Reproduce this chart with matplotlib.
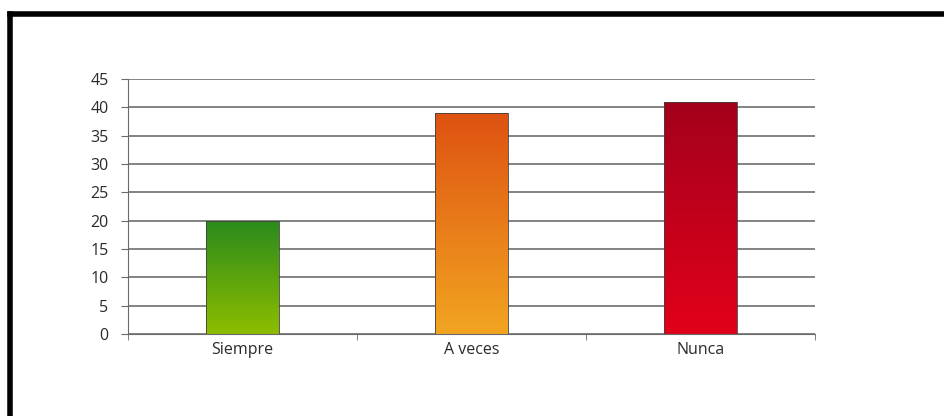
import matplotlib
matplotlib.use("Agg")
import matplotlib.pyplot as plt
import numpy as np
from matplotlib.colors import LinearSegmentedColormap
from matplotlib.lines import Line2D

# datos
categorias = ["Siempre", "A veces", "Nunca"]
valores = [20, 39, 41]
colores_arriba = ["#2a8a1c", "#de5212", "#a3001c"]
colores_abajo = ["#8dbd00", "#f2a521", "#e2001a"]

plt.rcParams['font.family'] = ['Open Sans', 'DejaVu Sans']

fig = plt.figure(figsize=(9.45, 4.16), dpi=100)
ax = fig.add_axes([128 / 945, 1 - 334 / 416, (815 - 128) / 945, (334 - 79) / 416])

x = np.arange(len(categorias))
barras = ax.bar(x, valores, width=0.315, color="none", edgecolor="#404040",
                linewidth=0.6, zorder=3)

# degradado dentro de cada barra (oscuro arriba, claro abajo)
grad = np.linspace(0, 1, 256).reshape(-1, 1)
for b, c1, c2 in zip(barras, colores_arriba, colores_abajo):
    cmap = LinearSegmentedColormap.from_list("g", [c1, c2])
    x0, y0 = b.get_x(), b.get_y()
    im = ax.imshow(grad, cmap=cmap, aspect="auto", zorder=2, origin="upper",
                   extent=(x0, x0 + b.get_width(), y0, y0 + b.get_height()))
    im.set_clip_path(b)

ax.set_xlim(-0.5, len(categorias) - 0.5)
ax.set_ylim(0, 45)
ax.set_yticks(range(0, 50, 5))
ax.set_xticks(x)
ax.set_xticklabels(categorias)
ax.set_xticks(np.arange(-0.5, len(categorias)), minor=True)

ax.grid(axis="y", color="#7a7a7a", linewidth=1.3, zorder=1)
for s in ["top", "right"]:
    ax.spines[s].set_visible(False)
ax.spines["left"].set_color("#6a6a6a")
ax.spines["bottom"].set_color("#6a6a6a")

ax.tick_params(axis="y", length=5, color="#6a6a6a", labelsize=11.5, labelcolor="#2a2a2a", pad=9)
ax.tick_params(axis="x", which="major", length=0, labelsize=11.5, labelcolor="#2a2a2a", pad=6)
ax.tick_params(axis="x", which="minor", length=4, color="#6a6a6a")

# marco de la imagen (arriba e izquierda)
fig.add_artist(Line2D([10 / 945, 1], [1 - 14 / 416, 1 - 14 / 416], color="black", linewidth=4,
                      solid_capstyle="projecting", transform=fig.transFigure))
fig.add_artist(Line2D([10 / 945, 10 / 945], [0, 1 - 14 / 416], color="black", linewidth=4,
                      solid_capstyle="projecting", transform=fig.transFigure))

fig.savefig("out.png", dpi=100)
